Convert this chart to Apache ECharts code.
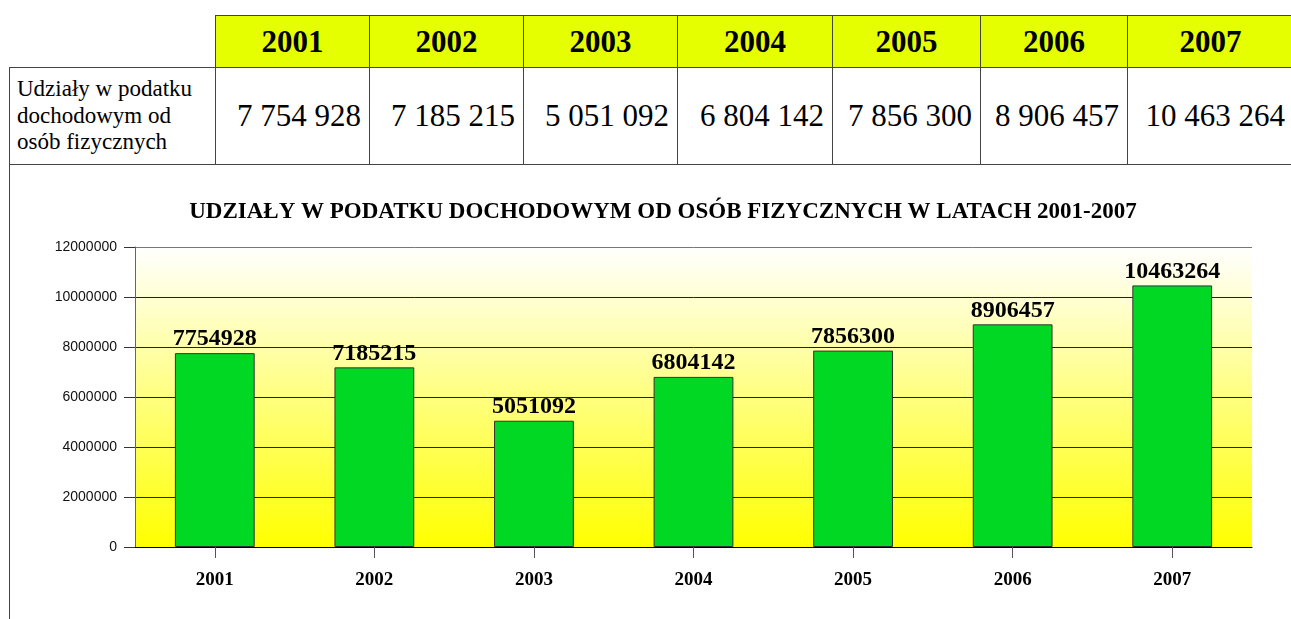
<!DOCTYPE html>
<html>
<head>
<meta charset="utf-8">
<script src="https://cdn.jsdelivr.net/npm/echarts@6/dist/echarts.min.js"></script>
<style>
  html, body { margin: 0; padding: 0; background: #fff; overflow: hidden; }
  body { width: 1291px; height: 619px; position: relative; }
  #tbl {
    position: absolute; left: 9px; top: 15px;
    border-collapse: collapse; table-layout: fixed; color: #000;
  }
  #tbl td {
    border: 1px solid #444; padding: 0;
    font-family: "Liberation Serif", "Times New Roman", serif;
  }
  #tbl td.corner { border-top: none; border-left: none; }
  #tbl td.head { background: #e6ff00; font-weight: bold; font-size: 31px; text-align: center; height: 51px; }
  #tbl td.name { font-size: 23px; line-height: 26.5px; padding-left: 7px; height: 96px; vertical-align: middle; }
  #tbl td.val { font-size: 31px; text-align: right; padding-right: 8px; }
  #tbl td.chartcell { height: 520px; border-top-color: #888; border-right: none; border-bottom: none; }
  #chart { position: absolute; left: 0; top: 0; width: 1291px; height: 619px; }
</style>
</head>
<body>
<table id="tbl"></table>
<div id="chart"></div>
<script>
// dane
var years = ['2001', '2002', '2003', '2004', '2005', '2006', '2007'];
var values = [7754928, 7185215, 5051092, 6804142, 7856300, 8906457, 10463264];
var rowLabel = ['Udziały w podatku', 'dochodowym od', 'osób fizycznych'];
var chartTitle = 'UDZIAŁY W PODATKU DOCHODOWYM OD OSÓB FIZYCZNYCH W LATACH 2001-2007';
var yMax = 12000000;
var yStep = 2000000;

var colWidths = [206, 154, 154, 154, 155, 148, 147, 166];

function spaced(v) {
  return String(v).replace(/\B(?=(\d{3})+(?!\d))/g, ' ');
}

// tabela
(function() {
  var t = document.getElementById('tbl');
  var total = colWidths.reduce(function(a, b) { return a + b; }, 0);
  t.style.width = total + 'px';
  var html = '<colgroup>';
  colWidths.forEach(function(w) { html += '<col style="width:' + w + 'px">'; });
  html += '</colgroup><tr><td class="corner"></td>';
  years.forEach(function(y) { html += '<td class="head">' + y + '</td>'; });
  html += '</tr><tr><td class="name">' + rowLabel.join('<br>') + '</td>';
  values.forEach(function(v) { html += '<td class="val">' + spaced(v) + '</td>'; });
  html += '</tr><tr><td class="chartcell" colspan="' + (years.length + 1) + '"></td></tr>';
  t.innerHTML = html;
})();

// wykres
var chart = echarts.init(document.getElementById('chart'));
var gridColors = ['#222', '#222', '#222', '#222', '#222', '#222', '#777'];

chart.setOption({
  animation: false,
  title: {
    text: chartTitle,
    left: 663,
    top: 201,
    textAlign: 'center',
    padding: 0,
    textStyle: {
      fontFamily: 'Liberation Serif', fontWeight: 'bold', fontSize: 23, color: '#000'
    }
  },
  grid: {
    left: 135, top: 247, width: 1117, height: 300,
    show: true,
    borderWidth: 0,
    backgroundColor: new echarts.graphic.LinearGradient(0, 0, 0, 1, [
      { offset: 0, color: '#ffffff' },
      { offset: 1, color: '#ffff00' }
    ])
  },
  xAxis: {
    type: 'category',
    data: years,
    axisLine: { lineStyle: { color: '#000', width: 1 } },
    axisTick: { show: true, alignWithLabel: true, length: 11, lineStyle: { color: '#555' } },
    axisLabel: {
      margin: 24,
      fontFamily: 'Liberation Serif', fontWeight: 'bold', fontSize: 19, color: '#000'
    }
  },
  yAxis: {
    type: 'value',
    min: 0, max: yMax, interval: yStep,
    axisLine: { show: true, lineStyle: { color: '#666' } },
    axisTick: { show: true, length: 11, lineStyle: { color: '#333' } },
    axisLabel: {
      margin: 18,
      fontFamily: 'Liberation Sans', fontSize: 14, color: '#111',
      formatter: function(v) { return String(v); }
    },
    splitLine: { show: true, lineStyle: { color: gridColors, width: 1 } }
  },
  series: [{
    type: 'bar',
    data: values,
    barWidth: '50%',
    itemStyle: { color: '#00d824', borderColor: '#333', borderWidth: 1 },
    label: {
      show: true,
      position: 'top',
      distance: 2,
      fontFamily: 'Liberation Serif', fontWeight: 'bold', fontSize: 24, color: '#000'
    }
  }]
});
</script>
</body>
</html>
